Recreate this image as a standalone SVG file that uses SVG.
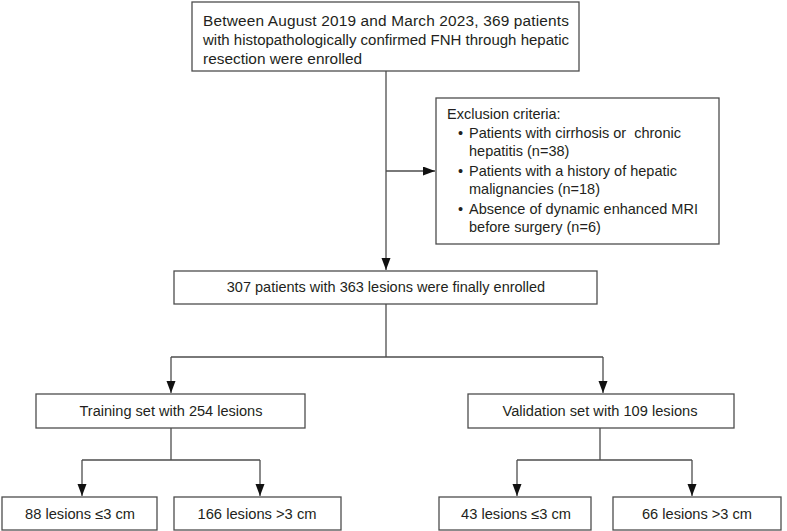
<svg xmlns="http://www.w3.org/2000/svg" width="787" height="531" viewBox="0 0 787 531">
<style>
.box{fill:#fff;stroke:#4d4d4d;stroke-width:1.3}
.ln{fill:none;stroke:#4d4d4d;stroke-width:1.3}
text{font-family:"Liberation Sans",Arial,sans-serif;fill:#231f20}
.t15{font-size:15.4px}
.t14{font-size:14.5px}
.tn{font-size:14px}
</style>
<defs>
<marker id="ah" markerWidth="12" markerHeight="10" refX="12" refY="4.5" orient="auto" markerUnits="userSpaceOnUse">
<path d="M0,0 L12,4.5 L0,9 Z" fill="#111"/>
</marker>
</defs>
<rect width="787" height="531" fill="#fff"/>
<g id="connectors">
<line class="ln" x1="386" y1="71" x2="386" y2="270" marker-end="url(#ah)"/>
<line class="ln" x1="386" y1="171" x2="435" y2="171" marker-end="url(#ah)"/>
<path class="ln" d="M386,304 V357"/>
<path class="ln" d="M171,357 H603"/>
<line class="ln" x1="603" y1="357" x2="603" y2="393" marker-end="url(#ah)"/>
<line class="ln" x1="171" y1="357" x2="171" y2="393" marker-end="url(#ah)"/>
<path class="ln" d="M171,428 V460"/>
<path class="ln" d="M82,460 H260"/>
<line class="ln" x1="82" y1="460" x2="82" y2="496" marker-end="url(#ah)"/>
<line class="ln" x1="260" y1="460" x2="260" y2="496" marker-end="url(#ah)"/>
<path class="ln" d="M600,428 V460"/>
<path class="ln" d="M517,460 H692"/>
<line class="ln" x1="517" y1="460" x2="517" y2="496" marker-end="url(#ah)"/>
<line class="ln" x1="692" y1="460" x2="692" y2="496" marker-end="url(#ah)"/>
</g>
<g id="n-top">
<rect class="box" x="192" y="2" width="387" height="69"/>
<text class="t15" x="203" y="26" textLength="366" lengthAdjust="spacing">Between August 2019 and March 2023, 369 patients</text>
<text class="t15" x="203" y="45" textLength="366" lengthAdjust="spacingAndGlyphs">with histopathologically confirmed FNH through hepatic</text>
<text class="t15" x="203" y="64">resection were enrolled</text>
</g>
<g id="n-excl">
<rect class="box" x="436" y="98" width="283" height="146"/>
<text class="t14" x="447" y="119">Exclusion criteria:</text>
<text class="t14" x="458" y="138">•</text>
<text class="t14" x="469" y="138" xml:space="preserve">Patients with cirrhosis or  chronic</text>
<text class="t14" x="469" y="156">hepatitis (n=38)</text>
<text class="t14" x="458" y="176">•</text>
<text class="t14" x="469" y="176">Patients with a history of hepatic</text>
<text class="t14" x="469" y="194">malignancies (n=18)</text>
<text class="t14" x="458" y="214">•</text>
<text class="t14" x="469" y="214">Absence of dynamic enhanced MRI</text>
<text class="t14" x="469" y="232">before surgery (n=6)</text>
</g>
<g id="n-final">
<rect class="box" x="174" y="271" width="423" height="33"/>
<text class="t14" x="386" y="292" text-anchor="middle">307 patients with 363 lesions were finally enrolled</text>
</g>
<g id="n-train">
<rect class="box" x="36" y="394" width="269" height="34"/>
<text class="tn" x="171" y="416" text-anchor="middle" textLength="183" lengthAdjust="spacingAndGlyphs">Training set with 254 lesions</text>
</g>
<g id="n-valid">
<rect class="box" x="468" y="394" width="266" height="34"/>
<text class="tn" x="600" y="416" text-anchor="middle" textLength="195" lengthAdjust="spacingAndGlyphs">Validation set with 109 lesions</text>
</g>
<g id="n-t1">
<rect class="box" x="2" y="497" width="155" height="33"/>
<text class="tn" x="80" y="519" text-anchor="middle" textLength="110" lengthAdjust="spacingAndGlyphs">88 lesions ≤3 cm</text>
</g>
<g id="n-t2">
<rect class="box" x="174" y="497" width="167" height="33"/>
<text class="tn" x="257" y="519" text-anchor="middle" textLength="119" lengthAdjust="spacingAndGlyphs">166 lesions &gt;3 cm</text>
</g>
<g id="n-v1">
<rect class="box" x="439" y="497" width="152" height="33"/>
<text class="tn" x="516" y="519" text-anchor="middle" textLength="110" lengthAdjust="spacingAndGlyphs">43 lesions ≤3 cm</text>
</g>
<g id="n-v2">
<rect class="box" x="613" y="497" width="168" height="33"/>
<text class="tn" x="697" y="519" text-anchor="middle" textLength="110" lengthAdjust="spacingAndGlyphs">66 lesions &gt;3 cm</text>
</g>
</svg>
